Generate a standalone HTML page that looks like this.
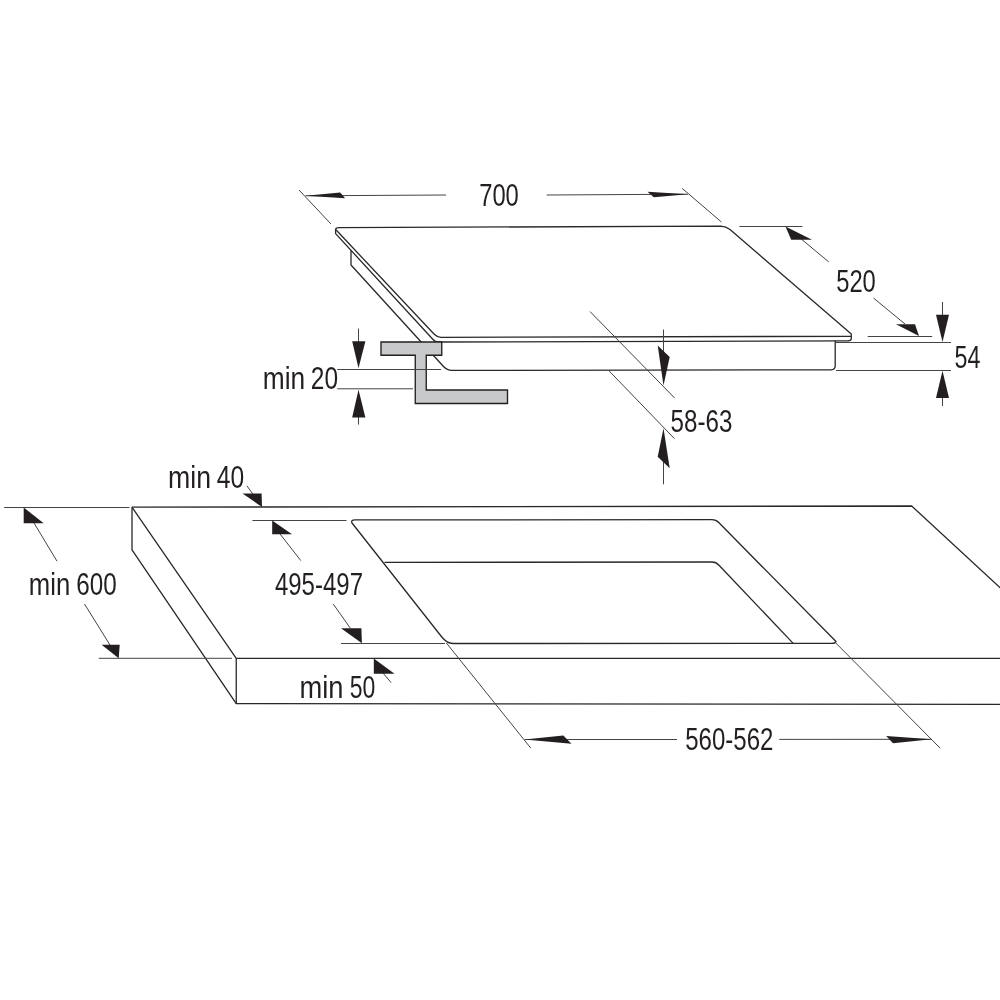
<!DOCTYPE html>
<html><head><meta charset="utf-8">
<style>
html,body{margin:0;padding:0;background:#fff;width:1000px;height:1000px;overflow:hidden}
svg{display:block}
text{font-family:"Liberation Sans",sans-serif;fill:#231f20}
</style></head><body>
<svg width="1000" height="1000" viewBox="0 0 1000 1000">
<rect width="1000" height="1000" fill="#fff"/>

<!-- ================= HOB ================= -->
<g fill="none" stroke="#2a2728" stroke-width="1.3" stroke-linejoin="round" stroke-linecap="round">
  <!-- glass outline -->
  <path d="M339,227.6 L721,226.2 Q726,226.4 730,229.5 L851.3,334 L851.3,338.5 Q851.3,340.8 848,340.8 L438,342 Q435,342 433.5,340 L335.6,233.6 L335.6,229.5 Q336,227.6 339,227.6 Z"/>
  <!-- glass front top edge -->
  <path d="M851.3,336.3 L441,337.3 Q437,337.1 434,334 L336.4,230.3"/>
  <!-- frame -->
  <path d="M351,251 L351,265 L443.5,366.5 Q447,370.4 452,370.4 L831,369.8 Q835.2,369.6 835.2,366 L835.2,341"/>
</g>

<!-- bracket -->
<path d="M381,342 L441.75,342 L441.75,355.25 L426.25,355.25 L426.25,390 L507.5,390 L507.5,403.5 L415.25,403.5 L415.25,355.25 L381,355.25 Z" fill="#c8c9cb" stroke="#231f20" stroke-width="1.35" stroke-linejoin="miter"/>

<!-- dimension / extension lines (thin) -->
<g fill="none" stroke="#444" stroke-width="1">
  <!-- 700 -->
  <path d="M299,190 L331,224"/>
  <path d="M682.2,188.4 L721.4,222"/>
  <path d="M305.5,195.8 L446,195"/>
  <path d="M546.6,195 L688,194.2"/>
  <!-- 520 -->
  <path d="M739.4,226.5 L802.4,226.5"/>
  <path d="M867.7,336.5 L932.2,336.5"/>
  <path d="M800,238 L828.8,261.9"/>
  <path d="M873.7,298.2 L905,324"/>
  <!-- 54 -->
  <path d="M836,342.5 L951,342.5"/>
  <path d="M836,370.5 L951,370.5"/>
  <path d="M942.5,302 L942.5,320"/>
  <path d="M942.5,392 L942.5,406"/>
  <!-- 58-63 -->
  <path d="M590,311.5 L674.5,397.9"/>
  <path d="M608.9,370.7 L674.5,438.7"/>
  <path d="M663.5,329.5 L663.5,352"/>
  <path d="M663.5,460 L663.5,484.3"/>
  <!-- min 20 -->
  <path d="M358.5,328.6 L358.5,345"/>
  <path d="M358.5,412 L358.5,424.6"/>
  <path d="M337.2,369.5 L441,369.5"/>
  <path d="M337.2,388.8 L413,388.8"/>
</g>

<!-- arrowheads -->
<g fill="#231f20" stroke="none">
  <polygon points="305.5,195.8 340.2,192.6 345.1,198.3"/>
  <polygon points="688,194.2 647.5,191.8 653.8,197.2"/>
  <polygon points="785.5,226.6 791.2,239.8 812,239.8"/>
  <polygon points="919,336 896,324.2 915,324.2"/>
  <polygon points="942.5,342 936,314.7 949,314.7"/>
  <polygon points="942.5,370.8 936,398 949,398"/>
  <polygon points="657.7,345.6 669.7,357 663.5,385.5"/>
  <polygon points="663.5,428.3 657.7,456.8 669.7,468.2"/>
  <polygon points="358.5,368.2 352.2,341.2 365.4,341.2"/>
  <polygon points="358.5,389.8 352.2,417.4 365.4,417.4"/>
</g>

<!-- ================= WORKTOP ================= -->
<g fill="none" stroke="#2a2728" stroke-width="1.3" stroke-linejoin="round">
  <path d="M132,507.2 L911.7,506 L1002,589.5"/>
  <path d="M132,507.2 L132,549.8 L236.25,703.7 L1000,704.3"/>
  <path d="M132,507.2 L236.25,658.3 L1000,658.3"/>
  <path d="M236.25,658.3 L236.25,703.7"/>
  <!-- cutout outer -->
  <path d="M355,519.9 L712,519.7 Q716,519.7 719,522.8 L836,641.5 Q835.5,643.4 832,643.4 L453,643.5 Q447,643.5 441.8,637 L352,523 Q350.5,519.9 355,519.9 Z"/>
  <!-- cutout inner -->
  <path d="M384.5,562.4 L712,562 Q716,562 719,565.2 L793.2,643.4"/>
</g>

<g fill="none" stroke="#444" stroke-width="1">
  <!-- min 600 -->
  <path d="M4.2,507.5 L129.5,507.5"/>
  <path d="M98.8,658.3 L232,658.3"/>
  <path d="M34,523 L57,561.2"/>
  <path d="M84.5,604 L110,645"/>
  <!-- min 40 -->
  <path d="M246.9,485.8 L255,497"/>
  <!-- 495-497 -->
  <path d="M252.4,520.5 L346.5,520.5"/>
  <path d="M280,534 L300.8,560.6"/>
  <path d="M333.3,604.1 L350.3,628.2"/>
  <path d="M341,643.5 L445,643.5"/>
  <!-- min 50 -->
  <path d="M383,673 L391.1,682.6"/>
  <!-- 560-562 -->
  <path d="M446.4,643 L530.8,748.1"/>
  <path d="M834.8,642 L940.2,748.2"/>
  <path d="M524.5,739.5 L677,739.5"/>
  <path d="M779.2,739.4 L931.5,739.3"/>
</g>

<g fill="#231f20" stroke="none">
  <polygon points="23.7,507.5 23.7,523.2 43.7,523.2"/>
  <polygon points="101.6,644.8 119.7,644.8 118.7,658.3"/>
  <polygon points="242.5,493.5 261.6,493.5 262,507"/>
  <polygon points="272.2,520.6 272.2,534.2 292,534.2"/>
  <polygon points="341,628.2 361.4,628.2 361.9,643.2"/>
  <polygon points="373.8,658.5 373.8,673.8 394.5,673.8"/>
  <polygon points="524.5,739.4 563.3,735.4 571.5,743.8"/>
  <polygon points="931.5,739.3 886.2,736 893,743.3"/>
</g>
<g style="will-change:transform" transform="translate(0.001,0)">
<text x="479.20" y="206.00" font-size="32.00" textLength="39.60" lengthAdjust="spacingAndGlyphs">700</text>
<text x="836.20" y="292.20" font-size="32.00" textLength="39.60" lengthAdjust="spacingAndGlyphs">520</text>
<text x="954.50" y="368.00" font-size="32.00" textLength="25.90" lengthAdjust="spacingAndGlyphs">54</text>
<text x="670.60" y="431.50" font-size="32.00" textLength="61.80" lengthAdjust="spacingAndGlyphs">58-63</text>
<text x="262.80" y="388.60" font-size="32.00" textLength="42.40" lengthAdjust="spacingAndGlyphs">min</text>
<text x="310.80" y="388.60" font-size="32.00" textLength="27.20" lengthAdjust="spacingAndGlyphs">20</text>
<text x="168.10" y="487.80" font-size="32.00" textLength="43.00" lengthAdjust="spacingAndGlyphs">min</text>
<text x="216.80" y="487.80" font-size="32.00" textLength="27.40" lengthAdjust="spacingAndGlyphs">40</text>
<text x="28.80" y="594.50" font-size="32.00" textLength="41.40" lengthAdjust="spacingAndGlyphs">min</text>
<text x="76.30" y="594.50" font-size="32.00" textLength="40.40" lengthAdjust="spacingAndGlyphs">600</text>
<text x="274.90" y="595.20" font-size="32.00" textLength="88.10" lengthAdjust="spacingAndGlyphs">495-497</text>
<text x="299.40" y="697.50" font-size="32.00" textLength="44.00" lengthAdjust="spacingAndGlyphs">min</text>
<text x="349.80" y="697.50" font-size="32.00" textLength="25.60" lengthAdjust="spacingAndGlyphs">50</text>
<text x="685.20" y="750.20" font-size="32.00" textLength="88.20" lengthAdjust="spacingAndGlyphs">560-562</text>
</g>
</svg>
</body></html>
